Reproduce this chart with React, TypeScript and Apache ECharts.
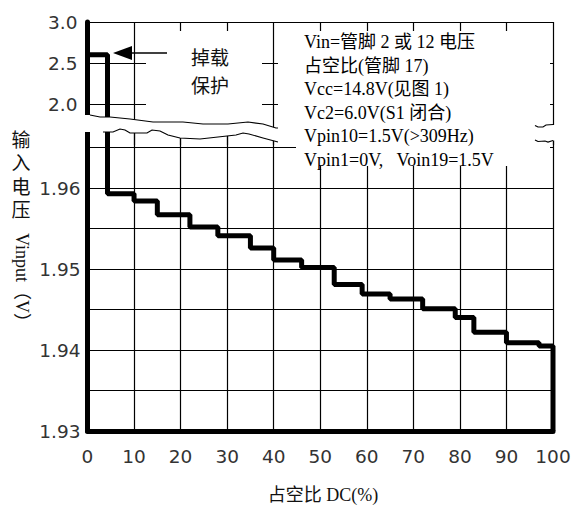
import React, { useEffect, useRef } from "react";
import * as echarts from "echarts";

// ---- data ----
const stepX = [0, 4.3, 10, 15, 22, 28, 35, 40, 46, 53, 59, 65, 72, 79, 83, 90, 97, 100];
const stepLevel = [
  2.6, 1.9593, 1.9584, 1.9567, 1.9552, 1.9541, 1.9526, 1.9511, 1.9502, 1.9481,
  1.9469, 1.9463, 1.9451, 1.944, 1.9422, 1.9409, 1.9405, 1.93,
];

const X_MIN = 0;
const X_MAX = 100;
const X_STEP = 10;
const TOP_MIN = 1.5;
const TOP_MAX = 3.0;
const TOP_STEP = 0.5;
const BOT_MIN = 1.93;
const BOT_MAX = 1.967;
const BOT_STEP = 0.005;

const noteLines = [
  "Vin=管脚 2 或 12 电压",
  "占空比(管脚 17)",
  "Vcc=14.8V(见图 1)",
  "Vc2=6.0V(S1 闭合)",
  "Vpin10=1.5V(>309Hz)",
  "Vpin1=0V,   Voin19=1.5V",
];
const yTitleCJK = ["输", "入", "电", "压"];
const yTitleLatin = "Vinput（V）";
const xTitle = "占空比 DC(%)";
const protectLabel = ["掉载", "保护"];

// ---- layout / decoration (pixels) ----
const GL = 87.5;
const GR = 553;
const TOP_Y = 22;
const TOP_H = ((TOP_MAX - TOP_MIN) / TOP_STEP) * 41;
const BOT_Y = 431;
const BOT_H = (BOT_MAX - BOT_MIN) * 8100;

const upperWave = [
  [82, 115], [90, 115], [100, 117], [110, 117], [130, 119], [153, 122], [183, 122],
  [203, 124], [228, 124], [248, 122], [263, 124], [276, 128], [278, 128],
];
const lowerWave = [
  [82, 132], [103, 132], [113, 132], [120, 129], [125, 130], [130, 133], [147, 133],
  [152, 130], [160, 131], [168, 135], [180, 138], [200, 139], [218, 137], [236, 135],
  [243, 133], [249, 134], [263, 138], [278, 142],
];

const SERIF = "'Liberation Serif', 'Times New Roman', 'Noto Sans CJK SC', serif";
const SANS = "'DejaVu Sans', 'Liberation Sans', sans-serif";
const CJK_SANS = "'Noto Sans CJK SC', sans-serif";

export default function App() {
  const ref = useRef<HTMLDivElement>(null);

  useEffect(() => {
    document.body.style.margin = "0";
    if (!ref.current) return;
    const chart = echarts.init(ref.current, null, { renderer: "svg" });

    const fullData = stepX.map((x, i) => [x, stepLevel[i]]);
    const topData = [
      [stepX[0], stepLevel[0]],
      [stepX[1], TOP_MIN],
    ];

    const gridLine = { show: true, lineStyle: { color: "#000", width: 1.2 } };

    const graphics: any[] = [
      // blank areas (label area, note box, axis break)
      { type: "rect", z: 40, silent: true, shape: { x: 146, y: 31, width: 116, height: 94 }, style: { fill: "#fff" } },
      { type: "rect", z: 40, silent: true, shape: { x: 278, y: 31, width: 272, height: 110 }, style: { fill: "#fff" } },
      { type: "rect", z: 40, silent: true, shape: { x: 296, y: 141, width: 254, height: 25 }, style: { fill: "#fff" } },
      { type: "rect", z: 40, silent: true, shape: { x: 546, y: 125, width: 14, height: 15.5 }, style: { fill: "#fff" } },
      {
        type: "polygon", z: 40, silent: true,
        shape: { points: [...upperWave, ...lowerWave.slice().reverse()] },
        style: { fill: "#fff" },
      },
      { type: "polyline", z: 45, silent: true, shape: { points: upperWave.slice(1) }, style: { stroke: "#000", lineWidth: 1.2, fill: "none" } },
      { type: "polyline", z: 45, silent: true, shape: { points: lowerWave.slice(1) }, style: { stroke: "#000", lineWidth: 1.2, fill: "none" } },
      { type: "polyline", z: 45, silent: true, shape: { points: [[553, 124.5], [546, 125], [543, 127], [538, 127], [535, 125.5]] }, style: { stroke: "#000", lineWidth: 1.2, fill: "none" } },
      { type: "polyline", z: 45, silent: true, shape: { points: [[535, 140], [538, 141.5], [545, 141], [548, 142], [553, 140.5]] }, style: { stroke: "#000", lineWidth: 1.2, fill: "none" } },
      // arrow
      { type: "polygon", z: 50, silent: true, shape: { points: [[113, 53], [132, 46], [132, 60]] }, style: { fill: "#000" } },
      { type: "line", z: 50, silent: true, shape: { x1: 131, y1: 53, x2: 167, y2: 53 }, style: { stroke: "#000", lineWidth: 1.4 } },
      // 掉载保护
      ...protectLabel.map((t, i) => ({
        type: "text", z: 50, silent: true, x: 210, y: 56 + i * 28,
        style: { text: t, font: `19px ${CJK_SANS}`, fill: "#111", align: "center", verticalAlign: "middle" },
      })),
      // note lines
      ...noteLines.map((t, i) => ({
        type: "text", z: 50, silent: true, x: 304, y: 42 + i * 23.6,
        style: { text: t, font: `18px ${SERIF}`, fill: "#000", align: "left", verticalAlign: "middle" },
      })),
      // y title
      ...yTitleCJK.map((t, i) => ({
        type: "text", z: 50, silent: true, x: 21, y: 140 + i * 23.5,
        style: { text: t, font: `19px ${SERIF}`, fill: "#111", align: "center", verticalAlign: "middle" },
      })),
      {
        type: "text", z: 50, silent: true, x: 22, y: 282, rotation: -Math.PI / 2,
        style: { text: yTitleLatin, font: `18px ${SERIF}`, fill: "#111", align: "center", verticalAlign: "middle" },
      },
      // x title
      {
        type: "text", z: 50, silent: true, x: 323, y: 495,
        style: { text: xTitle, font: `18px ${SERIF}`, fill: "#111", align: "center", verticalAlign: "middle" },
      },
    ];

    chart.setOption({
      animation: false,
      backgroundColor: "#fff",
      grid: [
        { left: GL, top: TOP_Y, width: GR - GL, height: TOP_H, outerBoundsMode: "none", containLabel: false },
        { left: GL, top: BOT_Y - BOT_H, width: GR - GL, height: BOT_H, outerBoundsMode: "none", containLabel: false },
      ],
      xAxis: [
        {
          gridIndex: 0, type: "value", min: X_MIN, max: X_MAX, interval: X_STEP,
          axisLine: { show: false }, axisTick: { show: false }, axisLabel: { show: false },
          splitLine: gridLine,
        },
        {
          gridIndex: 1, type: "value", min: X_MIN, max: X_MAX, interval: X_STEP,
          axisLine: { show: true, onZero: false, lineStyle: { color: "#000", width: 5 } },
          axisTick: { show: false },
          axisLabel: { show: true, margin: 16, fontSize: 18.5, fontFamily: SANS, color: "#333" },
          splitLine: gridLine,
        },
      ],
      yAxis: [
        {
          gridIndex: 0, type: "value", min: TOP_MIN, max: TOP_MAX, interval: TOP_STEP,
          axisLine: { show: true, onZero: false, lineStyle: { color: "#000", width: 5 } },
          axisTick: { show: false },
          axisLabel: {
            show: true, margin: 10, fontSize: 18.5, fontFamily: SANS, color: "#333",
            showMinLabel: false, formatter: (v: number) => v.toFixed(1),
          },
          splitLine: { ...gridLine, showMinLine: false },
        },
        {
          gridIndex: 1, type: "value", min: BOT_MIN, max: BOT_MAX, interval: BOT_STEP,
          axisLine: { show: true, onZero: false, lineStyle: { color: "#000", width: 5 } },
          axisTick: { show: false },
          axisLabel: {
            show: true, margin: 7, fontSize: 18.5, fontFamily: SANS, color: "#333",
            showMaxLabel: false,
            formatter: (v: number) => (Math.round(v * 1000) % 10 === 0 ? v.toFixed(2) : ""),
          },
          splitLine: { ...gridLine, showMaxLine: false },
        },
      ],
      series: [
        {
          type: "line", xAxisIndex: 0, yAxisIndex: 0, data: topData, step: "end",
          showSymbol: false, clip: true, z: 5,
          lineStyle: { color: "#000", width: 5 },
        },
        {
          type: "line", xAxisIndex: 1, yAxisIndex: 1, data: fullData, step: "end",
          showSymbol: false, clip: true, z: 5,
          lineStyle: { color: "#000", width: 5 },
        },
      ],
      graphic: graphics,
    });

    return () => chart.dispose();
  }, []);

  return <div ref={ref} style={{ width: 574, height: 507 }} />;
}
